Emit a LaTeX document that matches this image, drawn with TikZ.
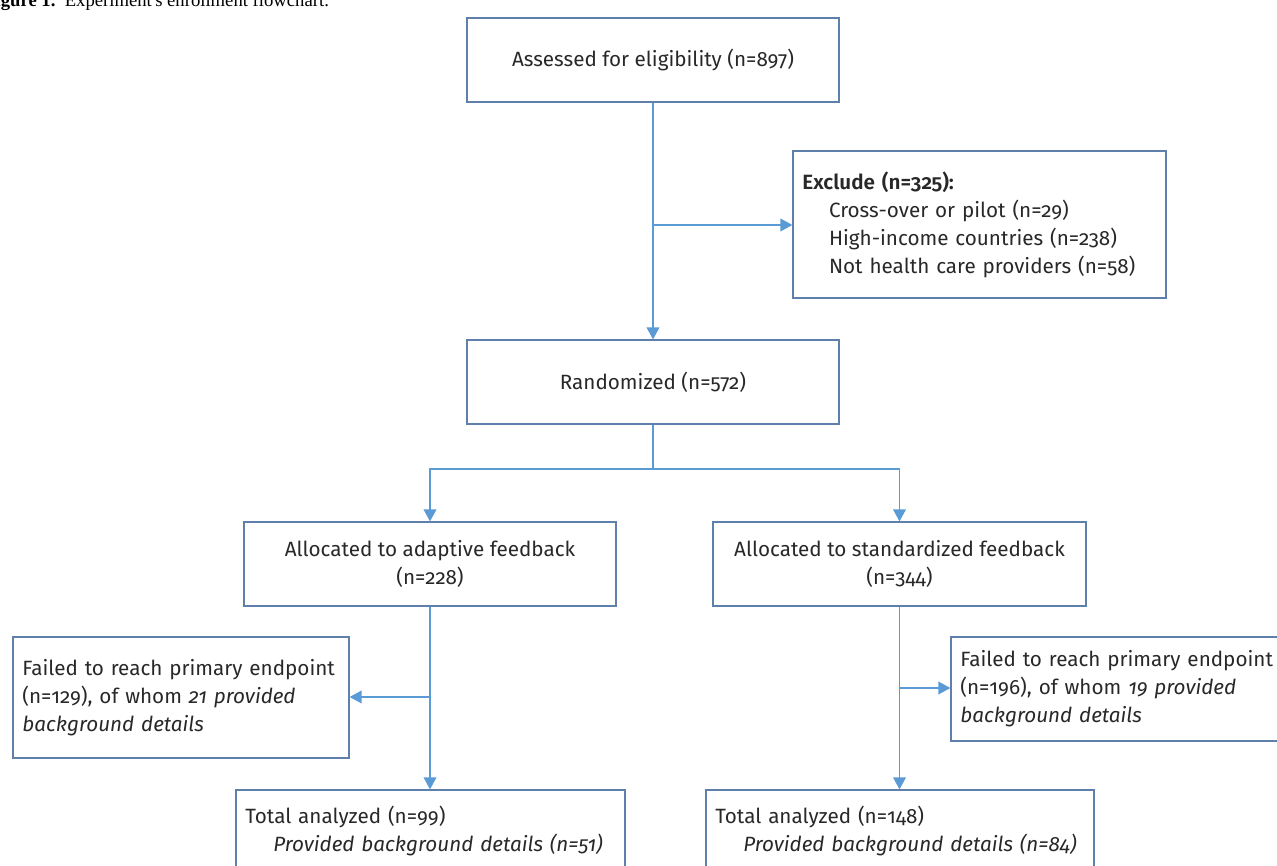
\documentclass[tikz,border=0pt]{standalone}
\usepackage{fontspec}
\setmainfont{Fira Sans}[Numbers=OldStyle,BoldFont={Fira Sans SemiBold}]
\newfontfamily\capfont{Liberation Serif}
\usepackage{tikz}
\usetikzlibrary{arrows.meta,positioning}

\definecolor{boxline}{RGB}{96,128,172}
\definecolor{flowline}{RGB}{91,155,213}
\definecolor{txtgray}{RGB}{40,40,40}

\begin{document}
\begin{tikzpicture}[x=0.75pt,y=-0.75pt,
	box/.style={draw=boxline,line width=0.9pt,rectangle,inner xsep=7pt,inner ysep=0pt,text=txtgray,font=\fontsize{15.5}{21}\selectfont},
	midbox/.style={box,align=center},
	leftbox/.style={box,align=left},
	flow/.style={draw=flowline,line width=1.1pt},
	arr/.style={flow,-{Triangle[length=9pt,width=9.5pt]}}]
	\useasboundingbox (0,0) rectangle (1277,866);

	%caption (cut off at the top)
	\node[anchor=base west,inner sep=0pt,font=\capfont\fontsize{14}{16}\selectfont] (capt) at (-16,7) {\textbf{Figure 1.}\ \ Experiment's enrollment flowchart.};

	%top
	\node[midbox,minimum width=279pt,minimum height=63pt] (assess) at (653,60) {Assessed for eligibility (n=897)};
	\node[leftbox,minimum width=279.75pt,minimum height=110.25pt,text width=265.75pt] (exclude) at (979.5,224.5) {\textbf{Exclude (n=325):}\\\hspace*{20pt}Cross-over or pilot (n=29)\\\hspace*{20pt}High-income countries (n=238)\\\hspace*{20pt}Not health care providers (n=58)};
	\node[midbox,minimum width=279pt,minimum height=63pt] (random) at (653,382) {Randomized (n=572)};

	%arms
	\node[midbox,minimum width=279pt,minimum height=63pt] (adapt) at (430,564) {Allocated to adaptive feedback\\(n=228)};
	\node[midbox,minimum width=279.75pt,minimum height=63pt] (stand) at (899.5,564) {Allocated to standardized feedback\\(n=344)};

	%losses
	\node[leftbox,minimum width=252pt,minimum height=90.75pt,text width=238pt] (failL) at (181,697.5) {Failed to reach primary endpoint\\(n=129), of whom \textit{21 provided}\\\textit{background details}};
	\node[leftbox,minimum width=261pt,minimum height=78pt,text width=247pt] (failR) at (1125,689) {Failed to reach primary endpoint\\(n=196), of whom \textit{19 provided}\\\textit{background details}};

	%analysed
	\node[leftbox,minimum width=291.75pt,minimum height=61.5pt,text width=277.75pt] (totalL) at (430.5,831) {Total analyzed (n=99)\\\hspace*{21pt}\textit{Provided background details (n=51)}};
	\node[leftbox,minimum width=291pt,minimum height=61.5pt,text width=277pt] (totalR) at (900,831) {Total analyzed (n=148)\\\hspace*{21pt}\textit{Provided background details (n=84)}};

	%connectors
	\draw[arr] (assess) -- (random);
	\coordinate (exsplit) at (653,225);
	\draw[arr] (exsplit) -- (exsplit -| exclude.west);
	\coordinate (armsplit) at (653,469);
	\draw[flow] (random) -- (armsplit);
	\draw[arr] (armsplit) -| (adapt);
	\draw[arr] (armsplit) -| (stand);
	\draw[arr] (adapt.south) -- (adapt.south |- totalL.north);
	\coordinate (lossL) at (430,697);
	\draw[arr] (lossL) -- (lossL -| failL.east);
	\draw[arr] (stand.south) -- (stand.south |- totalR.north);
	\coordinate (lossR) at (899.5,688);
	\draw[arr] (lossR) -- (lossR -| failR.west);
\end{tikzpicture}
\end{document}
